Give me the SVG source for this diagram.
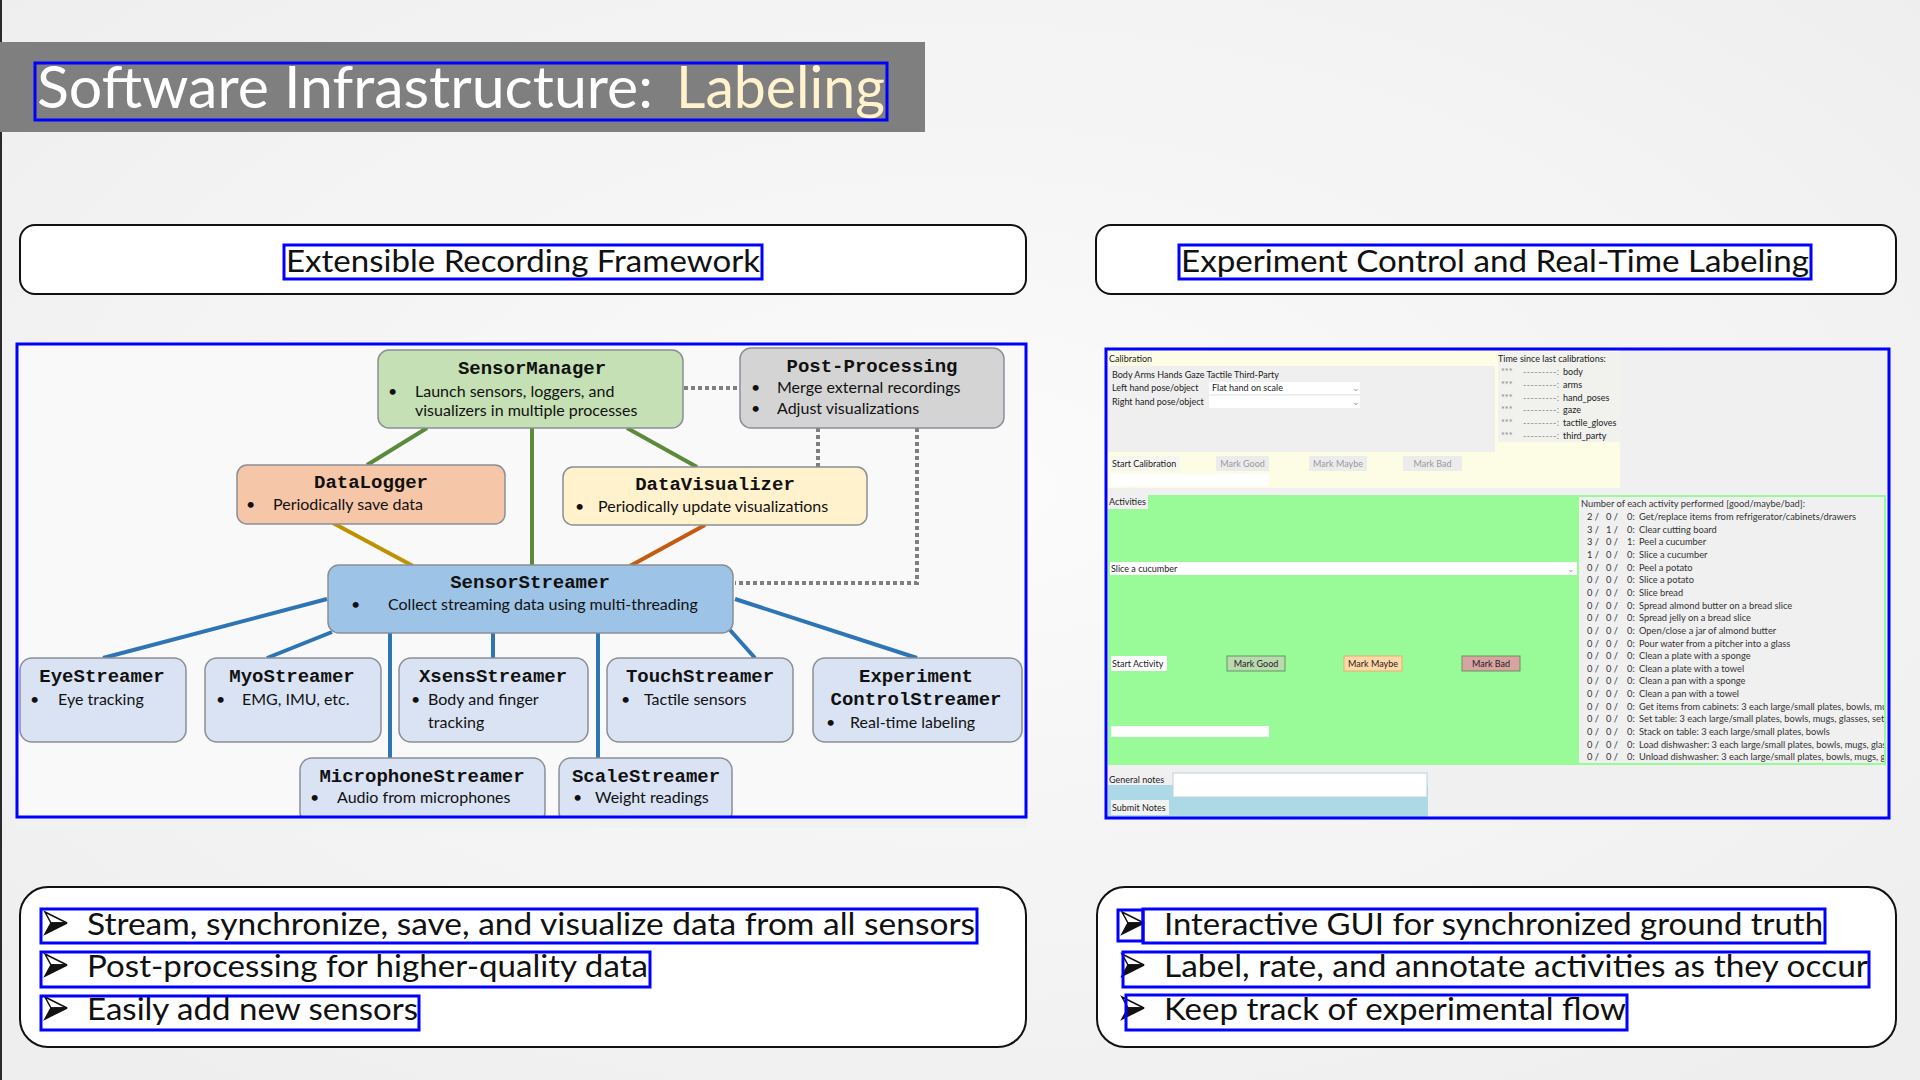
<svg xmlns="http://www.w3.org/2000/svg" width="1920" height="1080" viewBox="0 0 1920 1080">
  <style>
    .sans { font-family: Lato, "Open Sans", "Liberation Sans", sans-serif; }
    .mono { font-family: "Liberation Mono", "Courier New", monospace; font-weight: bold; font-size: 19px; text-anchor: middle; fill: #111; }
    .body { font-family: Lato, "Open Sans", "Liberation Sans", sans-serif; font-size: 16px; fill: #111; }
    .panel { fill: #ffffff; stroke: #111; stroke-width: 2; }
    .frame { fill: none; stroke: #0000ff; stroke-width: 3; }
    .node { stroke: #8a8f96; stroke-width: 1.5; }
    .blue { fill: #dae3f3; }
    .edge { fill: none; stroke-width: 4; }
    .e-green { stroke: #5a8a3a; }
    .e-gold { stroke: #bf9000; }
    .e-orange { stroke: #c55a11; }
    .e-blue { stroke: #2e75b6; }
    .e-dot { stroke: #7f7f7f; stroke-dasharray: 4 3; }
    .gui { font-family: Lato, "Noto Sans", sans-serif; font-size: 9px; fill: #222; }
    .gui-dim { font-family: Lato, "Noto Sans", sans-serif; font-size: 9px; fill: #9a9a9a; }
    .list { font-family: Lato, "Noto Sans", sans-serif; font-size: 9.3px; fill: #333; }
    .bullet { font-family: Lato, "Open Sans", sans-serif; font-size: 31px; fill: #111; }
  </style>
  <defs>
    <radialGradient id="bg" cx="50%" cy="45%" r="70%">
      <stop offset="0" stop-color="#fbfbfb"/>
      <stop offset="1" stop-color="#eeeeee"/>
    </radialGradient>
    <clipPath id="listClip"><rect x="1579" y="497" width="305" height="266"/></clipPath>
    <g id="arrowBullet">
      <polygon points="0,0 22,11 6,11" fill="#ffffff" stroke="#111" stroke-width="1.5"/>
      <polygon points="0,22 22,11 6,11" fill="#111" stroke="#111" stroke-width="1.5"/>
    </g>
  </defs>

  <!-- slide background -->
  <rect x="0" y="0" width="1920" height="1080" fill="url(#bg)"/>
  <rect x="0" y="0" width="2" height="1080" fill="#2a2a2a"/>

  <!-- title bar -->
  <g id="title">
    <rect x="0" y="42" width="925" height="90" fill="#7f7f7f"/>
    <text class="sans" x="37" y="108" font-size="58" fill="#ffffff" textLength="616" lengthAdjust="spacingAndGlyphs">Software Infrastructure:</text>
    <text class="sans" x="676" y="108" font-size="58" fill="#fff2cc" textLength="209" lengthAdjust="spacingAndGlyphs">Labeling</text>
  </g>

  <!-- section headers -->
  <g id="header-left">
    <rect class="panel" x="20" y="225" width="1006" height="69" rx="15"/>
    <text class="sans" x="286" y="272" font-size="30" fill="#111" textLength="474" lengthAdjust="spacingAndGlyphs">Extensible Recording Framework</text>
  </g>
  <g id="header-right">
    <rect class="panel" x="1096" y="225" width="800" height="69" rx="15"/>
    <text class="sans" x="1181" y="272" font-size="30" fill="#111" textLength="628" lengthAdjust="spacingAndGlyphs">Experiment Control and Real-Time Labeling</text>
  </g>

  <!-- architecture diagram area -->
  <rect x="17" y="344" width="1009" height="473" fill="#f9f9f9"/>

  <g id="connectors">
    <line class="edge e-green" x1="427" y1="428" x2="367" y2="465"/>
    <line class="edge e-green" x1="532" y1="428" x2="532" y2="566"/>
    <line class="edge e-green" x1="627" y1="428" x2="697" y2="467"/>
    <line class="edge e-gold" x1="333" y1="523" x2="413" y2="566"/>
    <line class="edge e-orange" x1="705" y1="525" x2="630" y2="566"/>
    <line class="edge e-dot" x1="684" y1="388" x2="740" y2="388"/>
    <line class="edge e-dot" x1="818" y1="428" x2="818" y2="467"/>
    <polyline class="edge e-dot" points="917,428 917,583 735,583"/>
    <line class="edge e-blue" x1="327" y1="599" x2="103" y2="658"/>
    <line class="edge e-blue" x1="332" y1="632" x2="267" y2="658"/>
    <line class="edge e-blue" x1="390" y1="633" x2="390" y2="758"/>
    <line class="edge e-blue" x1="493" y1="633" x2="493" y2="658"/>
    <line class="edge e-blue" x1="598" y1="633" x2="598" y2="758"/>
    <line class="edge e-blue" x1="730" y1="630" x2="755" y2="658"/>
    <line class="edge e-blue" x1="735" y1="599" x2="917" y2="658"/>
  </g>

  <g id="sensor-manager">
    <rect class="node" x="378" y="350" width="305" height="78" rx="11" fill="#c5e0b4"/>
    <text class="mono" x="532" y="374">SensorManager</text>
    <text class="body" x="388" y="397">•</text>
    <text class="body" x="415" y="397">Launch sensors, loggers, and</text>
    <text class="body" x="415" y="416">visualizers in multiple processes</text>
  </g>
  <g id="post-processing">
    <rect class="node" x="740" y="348" width="264" height="80" rx="11" fill="#d4d4d4"/>
    <text class="mono" x="872" y="372">Post-Processing</text>
    <text class="body" x="751" y="393">•</text>
    <text class="body" x="777" y="393">Merge external recordings</text>
    <text class="body" x="751" y="414">•</text>
    <text class="body" x="777" y="414">Adjust visualizations</text>
  </g>
  <g id="data-logger">
    <rect class="node" x="237" y="465" width="268" height="59" rx="10" fill="#f6c6a8"/>
    <text class="mono" x="371" y="488">DataLogger</text>
    <text class="body" x="246" y="510">•</text>
    <text class="body" x="273" y="510">Periodically save data</text>
  </g>
  <g id="data-visualizer">
    <rect class="node" x="563" y="467" width="304" height="58" rx="10" fill="#fff2cc"/>
    <text class="mono" x="715" y="490">DataVisualizer</text>
    <text class="body" x="575" y="512">•</text>
    <text class="body" x="598" y="512">Periodically update visualizations</text>
  </g>
  <g id="sensor-streamer">
    <rect class="node" x="328" y="565" width="405" height="68" rx="11" fill="#9dc3e6"/>
    <text class="mono" x="530" y="588">SensorStreamer</text>
    <text class="body" x="351" y="610">•</text>
    <text class="body" x="388" y="610">Collect streaming data using multi-threading</text>
  </g>
  <g id="eye-streamer">
    <rect class="node blue" x="20" y="658" width="166" height="84" rx="12"/>
    <text class="mono" x="102" y="682">EyeStreamer</text>
    <text class="body" x="30" y="705">•</text>
    <text class="body" x="58" y="705">Eye tracking</text>
  </g>
  <g id="myo-streamer">
    <rect class="node blue" x="205" y="658" width="176" height="84" rx="12"/>
    <text class="mono" x="292" y="682">MyoStreamer</text>
    <text class="body" x="216" y="705">•</text>
    <text class="body" x="242" y="705">EMG, IMU, etc.</text>
  </g>
  <g id="xsens-streamer">
    <rect class="node blue" x="399" y="658" width="189" height="84" rx="12"/>
    <text class="mono" x="493" y="682">XsensStreamer</text>
    <text class="body" x="411" y="705">•</text>
    <text class="body" x="428" y="705">Body and finger</text>
    <text class="body" x="428" y="728">tracking</text>
  </g>
  <g id="touch-streamer">
    <rect class="node blue" x="607" y="658" width="186" height="84" rx="12"/>
    <text class="mono" x="700" y="682">TouchStreamer</text>
    <text class="body" x="621" y="705">•</text>
    <text class="body" x="644" y="705">Tactile sensors</text>
  </g>
  <g id="experiment-control-streamer">
    <rect class="node blue" x="813" y="658" width="209" height="84" rx="12"/>
    <text class="mono" x="916" y="682">Experiment</text>
    <text class="mono" x="916" y="705">ControlStreamer</text>
    <text class="body" x="826" y="728">•</text>
    <text class="body" x="850" y="728">Real-time labeling</text>
  </g>
  <g id="microphone-streamer">
    <rect class="node blue" x="300" y="758" width="245" height="66" rx="12"/>
    <text class="mono" x="422" y="782">MicrophoneStreamer</text>
    <text class="body" x="310" y="803">•</text>
    <text class="body" x="337" y="803">Audio from microphones</text>
  </g>
  <g id="scale-streamer">
    <rect class="node blue" x="559" y="758" width="173" height="66" rx="12"/>
    <text class="mono" x="646" y="782">ScaleStreamer</text>
    <text class="body" x="573" y="803">•</text>
    <text class="body" x="595" y="803">Weight readings</text>
  </g>
  <!-- cover below the diagram frame -->
  <rect x="17" y="818" width="1010" height="10" fill="#f2f2f2"/>

  <!-- labeling GUI -->
  <g id="labeling-gui">
    <rect x="1106" y="349" width="783" height="469" fill="#f0f0f0"/>
    <!-- calibration block -->
    <rect x="1106" y="349" width="514" height="139" fill="#fdfde6"/>
    <rect x="1107" y="366" width="388" height="86" fill="#efefef"/>
    <rect x="1498" y="352" width="122" height="90" fill="#f1f1ee"/>
    <text class="gui" x="1109" y="362">Calibration</text>
    <text class="gui" x="1112" y="378">Body Arms Hands Gaze Tactile Third-Party</text>
    <text class="gui" x="1112" y="391">Left hand pose/object</text>
    <rect x="1209" y="382" width="151" height="12" fill="#ffffff"/>
    <text class="gui" x="1212" y="391">Flat hand on scale</text>
    <text class="gui-dim" x="1352" y="391">⌄</text>
    <text class="gui" x="1112" y="405">Right hand pose/object</text>
    <rect x="1209" y="396" width="151" height="12" fill="#ffffff"/>
    <text class="gui-dim" x="1352" y="405">⌄</text>
    <text class="gui" x="1498" y="362" font-size="8.5">Time since last calibrations:</text>
    <g class="gui" font-size="8.5">
      <text x="1501" y="375" fill="#888">***</text><text x="1523" y="375" fill="#888" textLength="36">---------:</text><text x="1563" y="375">body</text>
      <text x="1501" y="388" fill="#888">***</text><text x="1523" y="388" fill="#888" textLength="36">---------:</text><text x="1563" y="388">arms</text>
      <text x="1501" y="401" fill="#888">***</text><text x="1523" y="401" fill="#888" textLength="36">---------:</text><text x="1563" y="401">hand_poses</text>
      <text x="1501" y="413" fill="#888">***</text><text x="1523" y="413" fill="#888" textLength="36">---------:</text><text x="1563" y="413">gaze</text>
      <text x="1501" y="426" fill="#888">***</text><text x="1523" y="426" fill="#888" textLength="36">---------:</text><text x="1563" y="426">tactile_gloves</text>
      <text x="1501" y="439" fill="#888">***</text><text x="1523" y="439" fill="#888" textLength="36">---------:</text><text x="1563" y="439">third_party</text>
    </g>
    <rect x="1111" y="456" width="69" height="15" fill="#f7f7f2"/>
    <text class="gui" x="1112" y="467">Start Calibration</text>
    <rect x="1216" y="456" width="53" height="15" fill="#ececec"/>
    <text class="gui-dim" x="1242.5" y="467" text-anchor="middle">Mark Good</text>
    <rect x="1309" y="456" width="58" height="15" fill="#ececec"/>
    <text class="gui-dim" x="1338" y="467" text-anchor="middle">Mark Maybe</text>
    <rect x="1403" y="456" width="59" height="15" fill="#ececec"/>
    <text class="gui-dim" x="1432.5" y="467" text-anchor="middle">Mark Bad</text>
    <rect x="1111" y="474" width="158" height="12" fill="#ffffff"/>

    <!-- activities block -->
    <rect x="1108" y="495" width="778" height="270" fill="#98fb98"/>
    <rect x="1108" y="495" width="40" height="14" fill="#f0f0f0"/>
    <text class="gui" x="1109" y="505">Activities</text>
    <rect x="1110" y="562" width="467" height="13" fill="#ffffff"/>
    <text class="gui" x="1111" y="572">Slice a cucumber</text>
    <text class="gui-dim" x="1567" y="572">⌄</text>
    <rect x="1111" y="656" width="56" height="15" fill="#ffffff"/>
    <text class="gui" x="1112" y="667">Start Activity</text>
    <rect x="1227" y="656" width="58" height="15" fill="#bcd8b0" stroke="#5c9a5c" stroke-width="1"/>
    <text class="gui" x="1256" y="667" text-anchor="middle">Mark Good</text>
    <rect x="1344" y="656" width="58" height="15" fill="#ffd8a8" stroke="#e8b070" stroke-width="1"/>
    <text class="gui" x="1373" y="667" text-anchor="middle">Mark Maybe</text>
    <rect x="1462" y="656" width="58" height="15" fill="#d8a4a2" stroke="#6f8f5f" stroke-width="1"/>
    <text class="gui" x="1491" y="667" text-anchor="middle" fill="#f6d6d6">Mark Bad</text>
    <rect x="1111" y="726" width="158" height="11" fill="#ffffff"/>

    <!-- activity counts list -->
    <rect x="1579" y="497" width="305" height="266" fill="#f0f0f0"/>
    <text class="list" x="1581" y="507">Number of each activity performed [good/maybe/bad]:</text>
    <g class="list" clip-path="url(#listClip)">
      <text y="520"><tspan x="1587">2 /</tspan><tspan x="1606">0 /</tspan><tspan x="1627">0:</tspan><tspan x="1639">Get/replace items from refrigerator/cabinets/drawers</tspan></text>
      <text y="532.6"><tspan x="1587">3 /</tspan><tspan x="1606">1 /</tspan><tspan x="1627">0:</tspan><tspan x="1639">Clear cutting board</tspan></text>
      <text y="545.3"><tspan x="1587">3 /</tspan><tspan x="1606">0 /</tspan><tspan x="1627">1:</tspan><tspan x="1639">Peel a cucumber</tspan></text>
      <text y="557.9"><tspan x="1587">1 /</tspan><tspan x="1606">0 /</tspan><tspan x="1627">0:</tspan><tspan x="1639">Slice a cucumber</tspan></text>
      <text y="570.6"><tspan x="1587">0 /</tspan><tspan x="1606">0 /</tspan><tspan x="1627">0:</tspan><tspan x="1639">Peel a potato</tspan></text>
      <text y="583.2"><tspan x="1587">0 /</tspan><tspan x="1606">0 /</tspan><tspan x="1627">0:</tspan><tspan x="1639">Slice a potato</tspan></text>
      <text y="595.9"><tspan x="1587">0 /</tspan><tspan x="1606">0 /</tspan><tspan x="1627">0:</tspan><tspan x="1639">Slice bread</tspan></text>
      <text y="608.5"><tspan x="1587">0 /</tspan><tspan x="1606">0 /</tspan><tspan x="1627">0:</tspan><tspan x="1639">Spread almond butter on a bread slice</tspan></text>
      <text y="621.2"><tspan x="1587">0 /</tspan><tspan x="1606">0 /</tspan><tspan x="1627">0:</tspan><tspan x="1639">Spread jelly on a bread slice</tspan></text>
      <text y="633.8"><tspan x="1587">0 /</tspan><tspan x="1606">0 /</tspan><tspan x="1627">0:</tspan><tspan x="1639">Open/close a jar of almond butter</tspan></text>
      <text y="646.5"><tspan x="1587">0 /</tspan><tspan x="1606">0 /</tspan><tspan x="1627">0:</tspan><tspan x="1639">Pour water from a pitcher into a glass</tspan></text>
      <text y="659.1"><tspan x="1587">0 /</tspan><tspan x="1606">0 /</tspan><tspan x="1627">0:</tspan><tspan x="1639">Clean a plate with a sponge</tspan></text>
      <text y="671.8"><tspan x="1587">0 /</tspan><tspan x="1606">0 /</tspan><tspan x="1627">0:</tspan><tspan x="1639">Clean a plate with a towel</tspan></text>
      <text y="684.4"><tspan x="1587">0 /</tspan><tspan x="1606">0 /</tspan><tspan x="1627">0:</tspan><tspan x="1639">Clean a pan with a sponge</tspan></text>
      <text y="697.1"><tspan x="1587">0 /</tspan><tspan x="1606">0 /</tspan><tspan x="1627">0:</tspan><tspan x="1639">Clean a pan with a towel</tspan></text>
      <text y="709.7"><tspan x="1587">0 /</tspan><tspan x="1606">0 /</tspan><tspan x="1627">0:</tspan><tspan x="1639">Get items from cabinets: 3 each large/small plates, bowls, mugs</tspan></text>
      <text y="722.4"><tspan x="1587">0 /</tspan><tspan x="1606">0 /</tspan><tspan x="1627">0:</tspan><tspan x="1639">Set table: 3 each large/small plates, bowls, mugs, glasses, sets</tspan></text>
      <text y="735"><tspan x="1587">0 /</tspan><tspan x="1606">0 /</tspan><tspan x="1627">0:</tspan><tspan x="1639">Stack on table: 3 each large/small plates, bowls</tspan></text>
      <text y="747.7"><tspan x="1587">0 /</tspan><tspan x="1606">0 /</tspan><tspan x="1627">0:</tspan><tspan x="1639">Load dishwasher: 3 each large/small plates, bowls, mugs, glasses</tspan></text>
      <text y="760.3"><tspan x="1587">0 /</tspan><tspan x="1606">0 /</tspan><tspan x="1627">0:</tspan><tspan x="1639">Unload dishwasher: 3 each large/small plates, bowls, mugs, glasses</tspan></text>
    </g>

    <!-- notes block -->
    <rect x="1108" y="785" width="320" height="32" fill="#add8e6"/>
    <rect x="1173" y="773" width="254" height="24" fill="#ffffff" stroke="#b8d4e0" stroke-width="1"/>
    <text class="gui" x="1109" y="783">General notes</text>
    <rect x="1111" y="800" width="58" height="15" fill="#f2f2f2"/>
    <text class="gui" x="1112" y="811">Submit Notes</text>
  </g>

  <!-- summary boxes -->
  <g id="summary-left">
    <rect class="panel" x="20" y="887" width="1006" height="160" rx="28"/>
    <use href="#arrowBullet" x="45" y="912"/>
    <text class="bullet" x="87" y="935" textLength="888" lengthAdjust="spacingAndGlyphs">Stream, synchronize, save, and visualize data from all sensors</text>
    <use href="#arrowBullet" x="45" y="954"/>
    <text class="bullet" x="87" y="977" textLength="561" lengthAdjust="spacingAndGlyphs">Post-processing for higher-quality data</text>
    <use href="#arrowBullet" x="45" y="997"/>
    <text class="bullet" x="87" y="1020" textLength="331" lengthAdjust="spacingAndGlyphs">Easily add new sensors</text>
  </g>
  <g id="summary-right">
    <rect class="panel" x="1097" y="887" width="799" height="160" rx="28"/>
    <use href="#arrowBullet" x="1122" y="912"/>
    <text class="bullet" x="1164" y="935" textLength="659" lengthAdjust="spacingAndGlyphs">Interactive GUI for synchronized ground truth</text>
    <use href="#arrowBullet" x="1122" y="954"/>
    <text class="bullet" x="1164" y="977" textLength="704" lengthAdjust="spacingAndGlyphs">Label, rate, and annotate activities as they occur</text>
    <use href="#arrowBullet" x="1122" y="997"/>
    <text class="bullet" x="1164" y="1020" textLength="462" lengthAdjust="spacingAndGlyphs">Keep track of experimental flow</text>
  </g>

  <!-- blue outline frames -->
  <g id="text-frames">
    <rect class="frame" x="35" y="63" width="852" height="57"/>
    <rect class="frame" x="284" y="245" width="478" height="34"/>
    <rect class="frame" x="1179" y="245" width="632" height="34"/>
    <rect class="frame" x="17" y="344" width="1009" height="473"/>
    <rect class="frame" x="1106" y="349" width="783" height="469"/>
    <rect class="frame" x="41" y="909" width="936" height="34"/>
    <rect class="frame" x="41" y="952" width="609" height="35"/>
    <rect class="frame" x="41" y="996" width="378" height="34"/>
    <rect class="frame" x="1118" y="910" width="25" height="31"/>
    <rect class="frame" x="1143" y="909" width="682" height="34"/>
    <rect class="frame" x="1123" y="952" width="746" height="35"/>
    <rect class="frame" x="1126" y="995" width="501" height="35"/>
  </g>
</svg>
